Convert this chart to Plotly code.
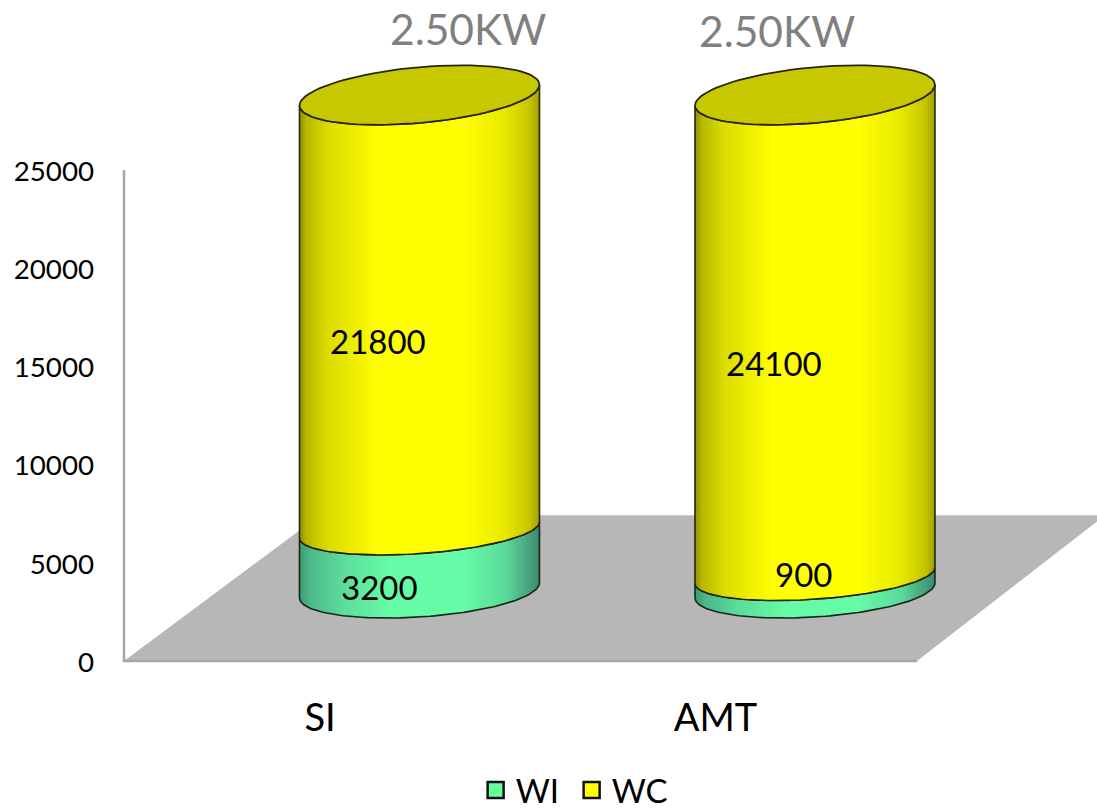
import numpy as np
import plotly.graph_objects as go

# Chart data
categories = ["SI", "AMT"]
wi_values = [3200, 900]
wc_values = [21800, 24100]
power_labels = ["2.50KW", "2.50KW"]
y_ticks = [0, 5000, 10000, 15000, 20000, 25000]

# Pseudo-3D projection: x is in category units, y in value units
X_MIN, X_MAX = -0.5057, 1.9646
Y_MIN, Y_MAX = -204, 33656
DEPTH_X = 0.2515
DEPTH_Y = 3590
RISE = 1.009
RADIUS = 0.3034
BASE_RIM = (380, 1350)
JOINT_RIM = (410, 1200)
CAP_RIM = (530, 1420)
JOINT_DROP = 150

FLOOR_X = [-0.4956, 1.5095, 1.985, 0.0]
FLOOR_Y = [0, 0, 7420, 7420]

YELLOW_SHADE = [[0, "#8f8f00"], [0.03, "#b8b800"], [0.12, "#dcdc00"], [0.33, "#ffff00"],
                [0.68, "#ffff00"], [0.86, "#e8e800"], [0.96, "#c4c400"], [1, "#a0a000"]]
GREEN_SHADE = [[0, "#3a9a70"], [0.04, "#4cb688"], [0.18, "#5cdc9a"], [0.38, "#66fba6"],
               [0.68, "#66fba6"], [0.86, "#5ad99a"], [0.96, "#479f7c"], [1, "#3a8a68"]]


def rim(center, level, tilt, flat, start, stop):
    t = np.linspace(start, stop, 90)
    return (center + RADIUS * np.cos(t),
            level + tilt * np.cos(t) + flat * np.sin(t))


def band(center, low, high, low_rim, high_rim):
    bx, by = rim(center, low, *low_rim, np.pi, 2 * np.pi)
    tx, ty = rim(center, high, *high_rim, 2 * np.pi, np.pi)
    return (np.r_[bx, tx, bx[0]].tolist(), np.r_[by, ty, by[0]].tolist())


fig = go.Figure()

# Floor and back wall
fig.add_trace(go.Scatter(x=FLOOR_X, y=FLOOR_Y, fill="toself", fillcolor="#b7b7b7",
                         mode="none", showlegend=False, hoverinfo="skip"))
fig.add_trace(go.Scatter(x=[FLOOR_X[0], FLOOR_X[0], FLOOR_X[1]], y=[25000, 0, 0], mode="lines",
                         line=dict(color="#a6a6a6", width=2.5), showlegend=False, hoverinfo="skip"))

# Cylinders, stacked from the floor up
for i, _ in enumerate(categories):
    cx = i + DEPTH_X
    wi_top = DEPTH_Y + wi_values[i] * RISE
    total = DEPTH_Y + (wi_values[i] + wc_values[i]) * RISE
    joint = wi_top - JOINT_DROP

    x, y = band(cx, DEPTH_Y, joint, BASE_RIM, JOINT_RIM)
    fig.add_trace(go.Scatter(x=x, y=y, mode="lines", fill="toself",
                             fillgradient=dict(type="horizontal", colorscale=GREEN_SHADE),
                             line=dict(color="#14261c", width=1.6),
                             showlegend=False, hoverinfo="skip"))
    x, y = band(cx, joint, total, JOINT_RIM, CAP_RIM)
    fig.add_trace(go.Scatter(x=x, y=y, mode="lines", fill="toself",
                             fillgradient=dict(type="horizontal", colorscale=YELLOW_SHADE),
                             line=dict(color="#262610", width=1.6),
                             showlegend=False, hoverinfo="skip"))
    x, y = rim(cx, total, *CAP_RIM, 0, 2 * np.pi)
    fig.add_trace(go.Scatter(x=x.tolist(), y=y.tolist(), mode="lines", fill="toself",
                             fillcolor="#c8c800", line=dict(color="#262610", width=1.8),
                             showlegend=False, hoverinfo="skip"))

# Legend entries
fig.add_trace(go.Scatter(x=[None], y=[None], mode="markers", name="WI",
                         marker=dict(symbol="square", size=16, color="#66ff99",
                                     line=dict(color="#111111", width=2.5))))
fig.add_trace(go.Scatter(x=[None], y=[None], mode="markers", name="WC",
                         marker=dict(symbol="square", size=16, color="#ffff00",
                                     line=dict(color="#111111", width=2.5))))

# Value labels on each stack segment
LABEL_FONT = dict(family="Lato, Open Sans, sans-serif", size=33, color="#000000")
WI_SHIFT = [(59, 43), (88, 78)]
WC_SHIFT = [(58, 43), (58, 44)]
annotations = []
for i, _ in enumerate(categories):
    annotations.append(dict(x=i, y=wi_values[i] / 2, text=str(wi_values[i]), showarrow=False,
                            xshift=WI_SHIFT[i][0], yshift=WI_SHIFT[i][1], font=LABEL_FONT))
    annotations.append(dict(x=i, y=wi_values[i] + wc_values[i] / 2, text=str(wc_values[i]),
                            showarrow=False, xshift=WC_SHIFT[i][0], yshift=WC_SHIFT[i][1],
                            font=LABEL_FONT))

POWER_SHIFT = [(148, 142), (61, 140)]
for i, label in enumerate(power_labels):
    annotations.append(dict(x=i, y=wi_values[i] + wc_values[i], text=label, showarrow=False,
                            xshift=POWER_SHIFT[i][0], yshift=POWER_SHIFT[i][1],
                            font=dict(family="Lato, Open Sans, sans-serif", size=42.5,
                                      color="#808080")))

fig.update_layout(
    width=1097, height=809,
    margin=dict(l=120, r=0, t=0, b=144, autoexpand=False),
    paper_bgcolor="#ffffff", plot_bgcolor="#ffffff",
    annotations=annotations,
    xaxis=dict(range=[X_MIN, X_MAX], tickvals=[0, 1], ticktext=categories,
               showgrid=False, zeroline=False, showline=False, ticks="",
               ticklabelstandoff=27,
               tickfont=dict(family="Lato, Open Sans, sans-serif", size=38, color="#000000")),
    yaxis=dict(range=[Y_MIN, Y_MAX], tickvals=y_ticks, ticktext=[str(v) for v in y_ticks],
               showgrid=False, zeroline=False, showline=False, ticks="",
               ticklabelstandoff=25, ticklabelshift=1,
               tickfont=dict(family="Lato, Open Sans, sans-serif", size=27.7, color="#000000")),
    showlegend=True,
    legend=dict(orientation="h", x=0.364, y=-0.146, xanchor="left", yanchor="top",
                itemwidth=30, entrywidth=51, entrywidthmode="pixels", bgcolor="rgba(0,0,0,0)",
                font=dict(family="Lato, Open Sans, sans-serif", size=33, color="#000000")),
)

fig.write_html("out.html", config=dict(displayModeBar=False))
